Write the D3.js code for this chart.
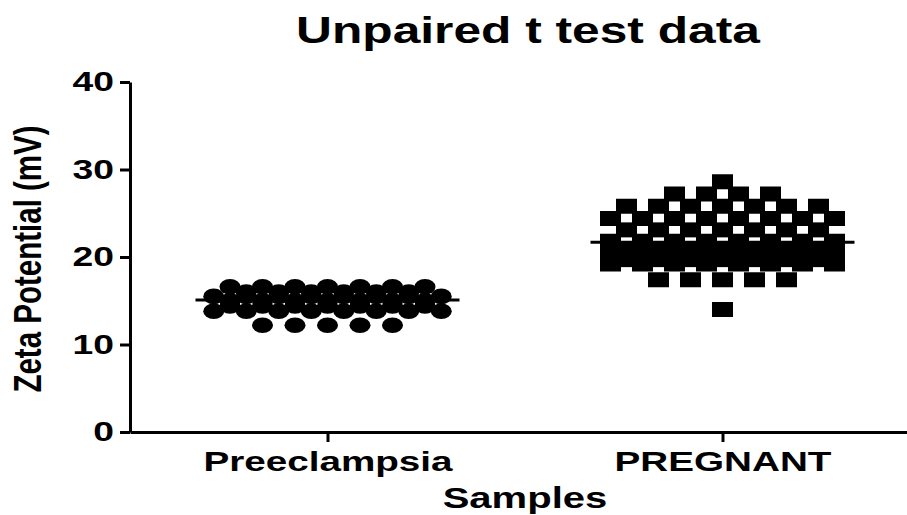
<!DOCTYPE html>
<html>
<head>
<meta charset="utf-8">
<script src="https://cdn.jsdelivr.net/npm/d3@7"></script>
<style>
  body { margin: 0; background: #fff; }
  svg { display: block; font-family: "Liberation Sans", Arial, sans-serif; }
</style>
</head>
<body>
<div id="chart"></div>
<script>
// Unpaired t test data - scatter dot plot (Prism style)
const categories = ["Preeclampsia", "PREGNANT"];

// values, grouped roughly by rows of the dot plot
const preeclampsiaValues = [
  16.6, 16.6, 16.6, 16.6, 16.6, 16.6, 16.6,
  16.0, 16.0, 16.0, 16.0, 16.0, 16.0,
  15.5, 15.5, 15.5, 15.5, 15.5, 15.5, 15.5, 15.5,
  15.0, 15.0, 15.0, 15.0, 15.0, 15.0, 15.0,
  14.4, 14.4, 14.4, 14.4, 14.4, 14.4, 14.4,
  13.8, 13.8, 13.8, 13.8, 13.8, 13.8, 13.8, 13.8,
  12.2, 12.2, 12.2, 12.2, 12.2
];

const pregnantValues = [
  28.6,
  27.2, 27.2, 27.2, 27.2,
  25.8, 25.8, 25.8, 25.8, 25.8, 25.8, 25.8,
  24.4, 24.4, 24.4, 24.4, 24.4, 24.4, 24.4, 24.4,
  23.1, 23.1, 23.1, 23.1, 23.1, 23.1, 23.1,
  21.8, 21.8, 21.8, 21.8, 21.8, 21.8, 21.8, 21.8,
  20.9, 20.9, 20.9, 20.9, 20.9, 20.9, 20.9,
  20.3, 20.3, 20.3, 20.3, 20.3, 20.3, 20.3, 20.3,
  19.7, 19.7, 19.7, 19.7, 19.7, 19.7, 19.7,
  19.2, 19.2, 19.2, 19.2, 19.2, 19.2, 19.2, 19.2,
  17.4, 17.4, 17.4, 17.4, 17.4,
  14.0
];

// group means (horizontal bars)
const meanValues = [15.1, 21.7];
const yTicks = [0, 10, 20, 30, 40];

const width = 907;
const height = 515;
const stretchX = 1.38; // the original picture is stretched sideways

const svg = d3
  .select("#chart")
  .append("svg")
  .attr("width", width)
  .attr("height", height);

const x = d3.scalePoint().domain(categories).range([130, 920]).padding(0.5);
const y = d3.scaleLinear().domain([0, 40]).range([432, 82]);

function stretch(sel) {
  sel.each(function () {
    const len = this.getComputedTextLength();
    d3.select(this)
      .attr("textLength", len * stretchX)
      .attr("lengthAdjust", "spacingAndGlyphs");
  });
}

// points laid out in rows, each row centred on its category
function layout(values, cat, spacing) {
  const rows = d3.group(values, (v) => v);
  const pts = [];
  rows.forEach((row, v) => {
    row.forEach((_, i) => {
      pts.push({ x: x(cat) + (i - (row.length - 1) / 2) * spacing, v: v });
    });
  });
  return pts;
}

const preePts = layout(preeclampsiaValues, categories[0], 32.5);
const pregPts = layout(pregnantValues, categories[1], 32);

svg
  .append("g")
  .selectAll("ellipse")
  .data(preePts)
  .enter()
  .append("ellipse")
  .attr("cx", (d) => d.x)
  .attr("cy", (d) => y(d.v))
  .attr("rx", 10.5)
  .attr("ry", 7.8)
  .attr("fill", "#000");

svg
  .append("g")
  .selectAll("rect")
  .data(pregPts)
  .enter()
  .append("rect")
  .attr("x", (d) => d.x - 10.5)
  .attr("y", (d) => y(d.v) - 7.5)
  .attr("width", 21)
  .attr("height", 15)
  .attr("fill", "#000");

// mean lines
svg
  .append("g")
  .selectAll("line")
  .data(meanValues)
  .enter()
  .append("line")
  .attr("x1", (d, i) => x(categories[i]) - 132)
  .attr("x2", (d, i) => x(categories[i]) + 132)
  .attr("y1", (d) => y(d))
  .attr("y2", (d) => y(d))
  .attr("stroke", "#000")
  .attr("stroke-width", 3);

// Y axis
const yAxis = svg
  .append("g")
  .attr("transform", "translate(130,0)")
  .call(d3.axisLeft(y).tickValues(yTicks).tickSize(10).tickSizeOuter(0).tickPadding(6));
yAxis.selectAll("path, line").attr("stroke", "#000").attr("stroke-width", 3);
yAxis
  .selectAll("text")
  .attr("fill", "#000")
  .style("font-size", "27px")
  .style("font-weight", "bold")
  .call(stretch);

// X axis
const xAxis = svg
  .append("g")
  .attr("transform", "translate(0,432)")
  .call(d3.axisBottom(x).tickSize(10).tickSizeOuter(0).tickPadding(9));
xAxis.selectAll("path, line").attr("stroke", "#000").attr("stroke-width", 3);
xAxis
  .selectAll("text")
  .attr("fill", "#000")
  .style("font-size", "28px")
  .style("font-weight", "bold")
  .call(stretch);

// title
svg
  .append("text")
  .attr("x", 528)
  .attr("y", 43)
  .attr("text-anchor", "middle")
  .style("font-size", "36px")
  .style("font-weight", "bold")
  .text("Unpaired t test data")
  .call(stretch);

// axis titles
svg
  .append("text")
  .attr("x", 525)
  .attr("y", 508)
  .attr("text-anchor", "middle")
  .style("font-size", "29px")
  .style("font-weight", "bold")
  .text("Samples")
  .call(stretch);

svg
  .append("text")
  .attr("transform", "translate(41,259) scale(1.3,1) rotate(-90)")
  .attr("text-anchor", "middle")
  .style("font-size", "29.5px")
  .style("font-weight", "bold")
  .text("Zeta Potential (mV)");
</script>
</body>
</html>
